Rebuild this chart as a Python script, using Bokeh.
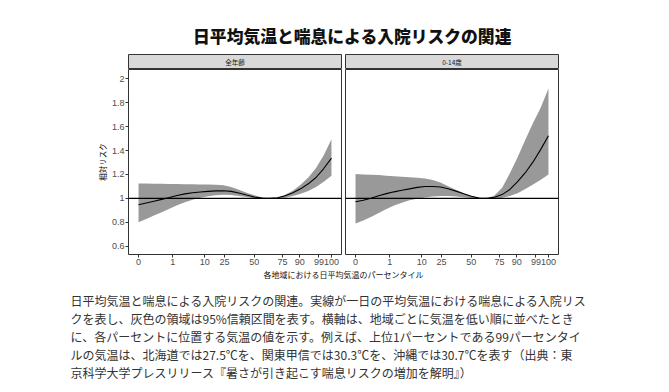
from bokeh.plotting import figure
from bokeh.layouts import column, row
from bokeh.models import Range1d, FixedTicker, Span, ColumnDataSource
from bokeh.core.properties import value
from bokeh.embed import file_html
from bokeh.resources import INLINE

# ---------------- data ----------------
title_text = "日平均気温と喘息による入院リスクの関連"
panel_titles = ["全年齢", "0-14歳"]
y_label = "相対リスク"
x_label = "各地域における日平均気温のパーセンタイル"
caption_lines = [
    "日平均気温と喘息による入院リスクの関連。実線が一日の平均気温における喘息による入院リス",
    "クを表し、灰色の領域は95%信頼区間を表す。横軸は、地域ごとに気温を低い順に並べたとき",
    "に、各パーセントに位置する気温の値を示す。例えば、上位1パーセントである99パーセンタイ",
    "ルの気温は、北海道では27.5℃を、関東甲信では30.3℃を、沖縄では30.7℃を表す（出典：東",
    "京科学大学プレスリリース『暑さが引き起こす喘息リスクの増加を解明』）",
]

# horizontal position of the temperature scale (0 = min, 100 = max)
x_pos = [0, 4, 8, 12, 16, 20, 24, 28, 32, 36, 40, 44, 48, 52, 56, 60, 64, 68,
         72, 76, 80, 84, 88, 92, 96, 100]

all_rr = [0.947, 0.962, 0.977, 0.992, 1.008, 1.025, 1.038, 1.047, 1.054, 1.059,
          1.063, 1.064, 1.059, 1.045, 1.028, 1.012, 1.003, 1.000, 1.005, 1.022,
          1.047, 1.080, 1.122, 1.175, 1.250, 1.337]
all_hi = [1.125, 1.124, 1.123, 1.122, 1.121, 1.120, 1.119, 1.118, 1.117, 1.116,
          1.114, 1.110, 1.095, 1.072, 1.048, 1.027, 1.008, 1.000, 1.004, 1.030,
          1.065, 1.115, 1.175, 1.255, 1.360, 1.495]
all_lo = [0.800, 0.828, 0.857, 0.885, 0.914, 0.942, 0.968, 0.989, 1.005, 1.018,
          1.026, 1.031, 1.029, 1.021, 1.012, 1.004, 1.000, 1.000, 1.000, 1.005,
          1.020, 1.040, 1.063, 1.095, 1.140, 1.190]

child_rr = [0.972, 0.984, 1.002, 1.023, 1.040, 1.055, 1.068, 1.080, 1.092, 1.099,
            1.100, 1.096, 1.081, 1.061, 1.039, 1.018, 1.004, 1.000, 1.010, 1.032,
            1.075, 1.140, 1.215, 1.305, 1.410, 1.524]
child_hi = [1.204, 1.201, 1.198, 1.195, 1.190, 1.185, 1.181, 1.177, 1.172, 1.166,
            1.155, 1.133, 1.101, 1.073, 1.046, 1.022, 1.005, 1.000, 1.025, 1.090,
            1.210, 1.345, 1.490, 1.630, 1.760, 1.920]
child_lo = [0.790, 0.815, 0.845, 0.879, 0.912, 0.941, 0.964, 0.984, 0.997, 1.008,
            1.015, 1.021, 1.021, 1.016, 1.009, 1.003, 1.000, 1.000, 1.000, 1.005,
            1.020, 1.043, 1.078, 1.117, 1.156, 1.200]

x_tick_pos = [0, 17.8, 34.3, 44.5, 60.0, 74.6, 83.6, 93.5, 100]
x_tick_labels = ["0", "1", "10", "25", "50", "75", "90", "99", "100"]
y_ticks = [0.6, 0.8, 1.0, 1.2, 1.4, 1.6, 1.8, 2.0]
y_tick_labels = ["0.6", "0.8", "1", "1.2", "1.4", "1.6", "1.8", "2"]

# ---------------- style ----------------
W = 669
CJK = "Noto Sans CJK JP"
LAT = "Liberation Sans"
FRAME_W = 213
X_RANGE = (-5.2, 105.2)
Y_RANGE = (0.531, 2.078)


def text_fig(width, height):
    f = figure(width=width, height=height, output_backend="svg", toolbar_location=None,
               x_range=Range1d(0, width), y_range=Range1d(height, 0),
               x_axis_location=None, y_axis_location=None,
               min_border_left=0, min_border_right=0, min_border_top=0, min_border_bottom=0)
    f.outline_line_color = None
    f.xgrid.visible = False
    f.ygrid.visible = False
    f.background_fill_color = "white"
    f.border_fill_color = "white"
    return f


# title
title_fig = text_fig(W, 54)
title_fig.text(x=[352], y=[35], text=[title_text], text_align="center", text_baseline="middle",
               text_font=value("Noto Sans CJK JP Black, Noto Sans CJK JP"), text_font_style="bold",
               text_font_size="16.8px", text_color="#111111")


def strip_fig(width, left, right, label):
    f = figure(width=width, height=15, output_backend="svg", toolbar_location=None,
               x_range=Range1d(0, 1), y_range=Range1d(0, 1),
               x_axis_location=None, y_axis_location=None,
               min_border_left=left, min_border_right=right, min_border_top=0, min_border_bottom=0)
    f.xgrid.visible = False
    f.ygrid.visible = False
    f.background_fill_color = "#d9d9d9"
    f.border_fill_color = "white"
    f.outline_line_color = "#333333"
    f.outline_line_width = 1
    f.text(x=[0.5], y=[0.5], text=[label], text_align="center", text_baseline="middle",
           text_font=value(CJK), text_font_size="6.5px", text_color="#1a1a1a")
    return f


def panel_fig(width, left, right, show_y, xs, rr, lo, hi):
    f = figure(width=width, height=200, output_backend="svg", toolbar_location=None,
               x_range=Range1d(*X_RANGE), y_range=Range1d(*Y_RANGE),
               y_axis_location="left" if show_y else None,
               min_border_left=left, min_border_right=right, min_border_top=0, min_border_bottom=15)
    f.xgrid.visible = False
    f.ygrid.visible = False
    f.background_fill_color = "white"
    f.border_fill_color = "white"
    f.outline_line_color = "#333333"
    f.outline_line_width = 1

    src = ColumnDataSource(dict(x=xs, rr=rr, lo=lo, hi=hi))
    f.varea(x="x", y1="lo", y2="hi", source=src, fill_color="#999999", fill_alpha=1.0)
    f.line(x="x", y="rr", source=src, line_color="black", line_width=1.1)
    f.add_layout(Span(location=1.0, dimension="width", line_color="black", line_width=1.1))

    xa = f.xaxis[0]
    xa.ticker = FixedTicker(ticks=x_tick_pos)
    xa.major_label_overrides = {t: l for t, l in zip(x_tick_pos, x_tick_labels)}
    xa.minor_tick_line_color = None
    xa.axis_line_color = None
    xa.major_tick_line_color = "#333333"
    xa.major_tick_in = 0
    xa.major_tick_out = 3
    xa.major_label_standoff = 1
    xa.major_label_text_font = LAT
    xa.major_label_text_font_size = "9px"
    xa.major_label_text_color = "#4d4d4d"

    if show_y:
        ya = f.yaxis[0]
        ya.ticker = FixedTicker(ticks=y_ticks)
        ya.major_label_overrides = {t: l for t, l in zip(y_ticks, y_tick_labels)}
        ya.minor_tick_line_color = None
        ya.axis_line_color = None
        ya.major_tick_line_color = "#333333"
        ya.major_tick_in = 0
        ya.major_tick_out = 3
        ya.major_label_standoff = 1
        ya.major_label_text_font = LAT
        ya.major_label_text_font_size = "9px"
        ya.major_label_text_color = "#4d4d4d"
        ya.axis_label = y_label
        ya.axis_label_text_font = CJK
        ya.axis_label_text_font_style = "normal"
        ya.axis_label_text_font_size = "7.5px"
        ya.axis_label_text_color = "#000000"
        ya.axis_label_standoff = 1
    return f


LEFT_W = 343
RIGHT_W = W - LEFT_W
left_border = 128
right_left_border = 2

strip_l = strip_fig(LEFT_W, left_border, LEFT_W - left_border - FRAME_W, panel_titles[0])
strip_r = strip_fig(RIGHT_W, right_left_border, RIGHT_W - right_left_border - FRAME_W, panel_titles[1])
p_l = panel_fig(LEFT_W, left_border, LEFT_W - left_border - FRAME_W, True, x_pos, all_rr, all_lo, all_hi)
p_r = panel_fig(RIGHT_W, right_left_border, RIGHT_W - right_left_border - FRAME_W, False,
                x_pos, child_rr, child_lo, child_hi)

# x label + caption
cap_fig = text_fig(W, 120)
cap_fig.text(x=[343], y=[5], text=[x_label], text_align="center", text_baseline="middle",
             text_font=value(CJK), text_font_size="8px", text_color="#111111")
line_h = 18.0
cap_fig.text(x=[70] * len(caption_lines), y=[31 + i * line_h for i in range(len(caption_lines))],
             text=caption_lines, text_align="left", text_baseline="middle",
             text_font=value(CJK), text_font_size="12px", text_color="#333333")

layout = column(title_fig,
                row(column(strip_l, p_l, spacing=0), column(strip_r, p_r, spacing=0), spacing=0),
                cap_fig, spacing=0)

open("out.html", "w").write(file_html(layout, INLINE))
